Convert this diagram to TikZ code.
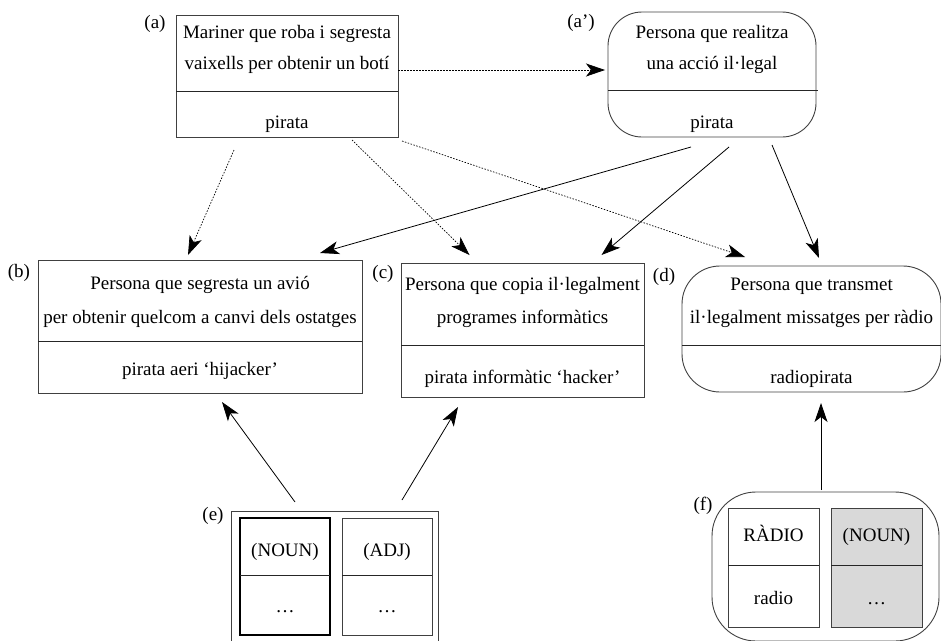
\documentclass[tikz,border=0pt]{standalone}
\usepackage{fontspec}
\setmainfont{Liberation Serif}
\usetikzlibrary{arrows.meta,calc}
\begin{document}
\begin{tikzpicture}[x=1pt,y=-1pt,
  box/.style={draw=black!75, line width=0.9pt, inner sep=0pt, outer sep=0pt},
  rbox/.style={box, rounded corners=#1},
  txt/.style={inner sep=0pt, anchor=base, font=\fontsize{19}{23}\selectfont},
  lab/.style={inner sep=0pt, font=\fontsize{19}{23}\selectfont},
  div/.style={line width=0.9pt, black!85},
  arr/.style={line width=0.8pt, -{Stealth[length=19pt,width=13pt,inset=5pt]}},
  darr/.style={arr, dash pattern=on 1.5pt off 1.5pt, line width=0.7pt}
]
\useasboundingbox (0,0) rectangle (941,640);

% (a)
\node[box, minimum width=222pt, minimum height=122pt] (A) at (287,76) {};
\draw[div] (A.west |- 0,91) -- (A.east |- 0,91);
\node[txt] (A1) at (287,38) {Mariner que roba i segresta};
\node[txt] (A2) at (287,69) {vaixells per obtenir un botí};
\node[txt] (A3) at (287,128) {pirata};
\node[lab] (LA) at (155,24) {(a)};

% (a')
\node[rbox=34pt, minimum width=208pt, minimum height=125pt] (Ap) at (712,74.5) {};
\draw[div] (Ap.west |- 0,90) -- ([xshift=2pt]Ap.east |- 0,90);
\node[txt] (Ap1) at (712,38) {Persona que realitza};
\node[txt] (Ap2) at (712,69) {una acció il·legal};
\node[txt] (Ap3) at (712,128) {pirata};
\node[lab] (LAp) at (581,23) {(a’)};

% (b)
\node[box, minimum width=324pt, minimum height=133pt] (B) at (200,326.5) {};
\draw[div] (B.west |- 0,341) -- (B.east |- 0,341);
\node[txt] (B1) at (200,289) {Persona que segresta un avió};
\node[txt] (B2) at (200,323) {per obtenir quelcom a canvi dels ostatges};
\node[txt] (B3) at (200,375) {pirata aeri ‘hijacker’};
\node[lab] (LB) at (19,273) {(b)};

% (c)
\node[box, minimum width=243pt, minimum height=134pt] (C) at (522.5,330) {};
\draw[div] (C.west |- 0,345) -- (C.east |- 0,345);
\node[txt] (C1) at (522.5,290) {Persona que copia il·legalment};
\node[txt] (C2) at (522.5,323) {programes informàtics};
\node[txt] (C3) at (522.5,383) {pirata informàtic ‘hacker’};
\node[lab] (LC) at (383,274) {(c)};

% (d)
\node[rbox=38pt, minimum width=259pt, minimum height=126pt] (D) at (811.5,329) {};
\draw[div] (D.west |- 0,345) -- (D.east |- 0,345);
\node[txt] (D1) at (811.5,290) {Persona que transmet};
\node[txt] (D2) at (811.5,323) {il·legalment missatges per ràdio};
\node[txt] (D3) at (811.5,383) {radiopirata};
\node[lab] (LD) at (664,277) {(d)};

% (e)
\node[box, minimum width=207pt, minimum height=134pt] (E) at (334.5,578) {};
\node[box, draw=black, line width=1.5pt, minimum width=90pt, minimum height=117pt] (E1) at (285,576.5) {};
\draw[div] (E1.west |- 0,575) -- (E1.east |- 0,575);
\node[box, minimum width=90pt, minimum height=117pt] (E2) at (387,576.5) {};
\draw[div] (E2.west |- 0,575) -- (E2.east |- 0,575);
\node[txt] (E1a) at (285,556) {(NOUN)};
\node[txt] (E1b) at (285,612) {…};
\node[txt] (E2a) at (387,556) {(ADJ)};
\node[txt] (E2b) at (387,612) {…};
\node[lab] (LE) at (213,516) {(e)};

% (f)
\node[rbox=44pt, minimum width=227pt, minimum height=149pt] (F) at (825.5,566.5) {};
\node[box, minimum width=91pt, minimum height=119pt] (F1) at (773.5,567.5) {};
\draw[div] (F1.west |- 0,565) -- (F1.east |- 0,565);
\node[box, fill=black!15, minimum width=91pt, minimum height=119pt] (F2) at (876.5,567.5) {};
\draw[div] (F2.west |- 0,565) -- (F2.east |- 0,565);
\node[txt] (F1a) at (773.5,541) {RÀDIO};
\node[txt] (F1b) at (773.5,604) {radio};
\node[txt] (F2a) at (876.5,541) {(NOUN)};
\node[txt] (F2b) at (876.5,604) {…};
\node[lab] (LF) at (703,506) {(f)};

% dotted connectors from (a)
\draw[darr] ($(A.east)+(0,-6)$) -- ($(Ap.west)+(-3,-4.5)$);
\draw[darr] ($(A.south)+(-53,13)$) -- ($(B.north)+(-12,-5)$);
\draw[darr] ($(A.south)+(65,3)$) -- ($(C.north)+(-53,-8)$);
\draw[darr] ($(A.south east)+(4,4)$) -- ($(D.north)+(-66.5,-9)$);

% solid connectors from (a')
\draw[arr] ($(Ap.south)+(-21,10)$) -- ($(B.north)+(120,-7)$);
\draw[arr] ($(Ap.south)+(17,10)$) -- ($(C.north)+(79,-8)$);
\draw[arr] ($(Ap.south)+(60,8)$) -- ($(D.north)+(7.5,-8)$);

% from (e) and (f)
\draw[arr] ($(E.north)+(-39.5,-9)$) -- ($(B.south)+(22,9)$);
\draw[arr] ($(E.north)+(67.5,-11)$) -- ($(C.south)+(-64.5,10)$);
\draw[arr] ($(F.north)+(-4.5,-2)$) -- ($(D.south)+(9.5,11)$);
\end{tikzpicture}
\end{document}
